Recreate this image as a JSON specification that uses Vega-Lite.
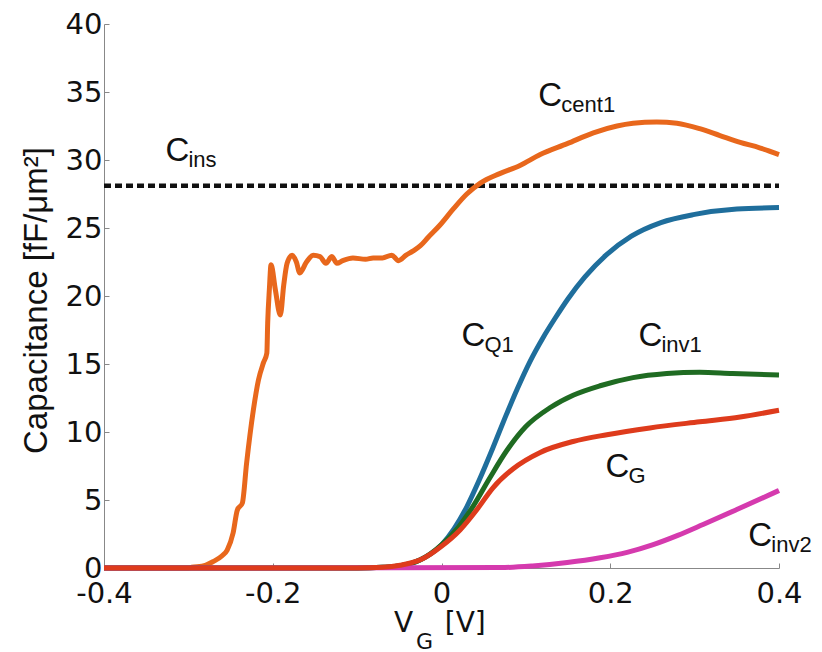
{
  "$schema": "https://vega.github.io/schema/vega-lite/v6.json",
  "autosize": "none",
  "width": 675,
  "height": 544,
  "padding": {"left": 104, "top": 24, "right": 43, "bottom": 84},
  "background": "white",
  "config": {
    "view": {"stroke": null},
    "axis": {"grid": false, "domainColor": "#888", "tickColor": "#888", "domainWidth": 1, "tickWidth": 1}
  },
  "data": {
    "values": [
      {"s": "cent1", "x": -0.4, "y": 0}, {"s": "cent1", "x": -0.3, "y": 0}, {"s": "cent1", "x": -0.296, "y": 0.05},
      {"s": "cent1", "x": -0.28, "y": 0.2}, {"s": "cent1", "x": -0.271, "y": 0.46}, {"s": "cent1", "x": -0.26, "y": 0.9},
      {"s": "cent1", "x": -0.254, "y": 1.32}, {"s": "cent1", "x": -0.247, "y": 2.57}, {"s": "cent1", "x": -0.242, "y": 4.26},
      {"s": "cent1", "x": -0.236, "y": 4.78}, {"s": "cent1", "x": -0.231, "y": 7.7}, {"s": "cent1", "x": -0.223, "y": 11.6},
      {"s": "cent1", "x": -0.217, "y": 13.8}, {"s": "cent1", "x": -0.211, "y": 15.1}, {"s": "cent1", "x": -0.207, "y": 15.8},
      {"s": "cent1", "x": -0.206, "y": 18.0}, {"s": "cent1", "x": -0.204, "y": 20.5}, {"s": "cent1", "x": -0.202, "y": 22.3},
      {"s": "cent1", "x": -0.197, "y": 20.5}, {"s": "cent1", "x": -0.191, "y": 18.6}, {"s": "cent1", "x": -0.187, "y": 20.8},
      {"s": "cent1", "x": -0.183, "y": 22.4}, {"s": "cent1", "x": -0.177, "y": 23.0}, {"s": "cent1", "x": -0.172, "y": 22.5},
      {"s": "cent1", "x": -0.168, "y": 21.7}, {"s": "cent1", "x": -0.16, "y": 22.5}, {"s": "cent1", "x": -0.152, "y": 23.0},
      {"s": "cent1", "x": -0.144, "y": 22.9}, {"s": "cent1", "x": -0.137, "y": 22.4}, {"s": "cent1", "x": -0.13, "y": 22.9},
      {"s": "cent1", "x": -0.124, "y": 22.4}, {"s": "cent1", "x": -0.117, "y": 22.6}, {"s": "cent1", "x": -0.105, "y": 22.8},
      {"s": "cent1", "x": -0.09, "y": 22.7}, {"s": "cent1", "x": -0.081, "y": 22.8}, {"s": "cent1", "x": -0.07, "y": 22.8},
      {"s": "cent1", "x": -0.059, "y": 23.0}, {"s": "cent1", "x": -0.051, "y": 22.6}, {"s": "cent1", "x": -0.042, "y": 23.0},
      {"s": "cent1", "x": -0.034, "y": 23.3}, {"s": "cent1", "x": -0.025, "y": 23.7}, {"s": "cent1", "x": -0.016, "y": 24.3},
      {"s": "cent1", "x": -0.002, "y": 25.2}, {"s": "cent1", "x": 0.014, "y": 26.4}, {"s": "cent1", "x": 0.03, "y": 27.5},
      {"s": "cent1", "x": 0.046, "y": 28.3}, {"s": "cent1", "x": 0.069, "y": 29.0}, {"s": "cent1", "x": 0.093, "y": 29.6},
      {"s": "cent1", "x": 0.117, "y": 30.4}, {"s": "cent1", "x": 0.149, "y": 31.2}, {"s": "cent1", "x": 0.18, "y": 32.0},
      {"s": "cent1", "x": 0.208, "y": 32.5}, {"s": "cent1", "x": 0.227, "y": 32.7}, {"s": "cent1", "x": 0.255, "y": 32.8},
      {"s": "cent1", "x": 0.279, "y": 32.7}, {"s": "cent1", "x": 0.306, "y": 32.3}, {"s": "cent1", "x": 0.33, "y": 31.8},
      {"s": "cent1", "x": 0.354, "y": 31.3}, {"s": "cent1", "x": 0.377, "y": 30.9}, {"s": "cent1", "x": 0.4, "y": 30.4},

      {"s": "Q1", "x": -0.4, "y": 0}, {"s": "Q1", "x": -0.1, "y": 0}, {"s": "Q1", "x": -0.07, "y": 0.05},
      {"s": "Q1", "x": -0.05, "y": 0.15}, {"s": "Q1", "x": -0.025, "y": 0.6}, {"s": "Q1", "x": 0, "y": 1.7},
      {"s": "Q1", "x": 0.015, "y": 2.9}, {"s": "Q1", "x": 0.03, "y": 4.5}, {"s": "Q1", "x": 0.045, "y": 6.5},
      {"s": "Q1", "x": 0.06, "y": 8.7}, {"s": "Q1", "x": 0.075, "y": 11.0}, {"s": "Q1", "x": 0.09, "y": 13.2},
      {"s": "Q1", "x": 0.105, "y": 15.2}, {"s": "Q1", "x": 0.12, "y": 16.9}, {"s": "Q1", "x": 0.135, "y": 18.4},
      {"s": "Q1", "x": 0.15, "y": 19.8}, {"s": "Q1", "x": 0.17, "y": 21.4}, {"s": "Q1", "x": 0.195, "y": 23.0},
      {"s": "Q1", "x": 0.225, "y": 24.4}, {"s": "Q1", "x": 0.26, "y": 25.4}, {"s": "Q1", "x": 0.3, "y": 26.0},
      {"s": "Q1", "x": 0.35, "y": 26.4}, {"s": "Q1", "x": 0.4, "y": 26.5},

      {"s": "inv1", "x": -0.4, "y": 0}, {"s": "inv1", "x": -0.1, "y": 0}, {"s": "inv1", "x": -0.07, "y": 0.05},
      {"s": "inv1", "x": -0.05, "y": 0.15}, {"s": "inv1", "x": -0.025, "y": 0.6}, {"s": "inv1", "x": 0, "y": 1.7},
      {"s": "inv1", "x": 0.02, "y": 3.0}, {"s": "inv1", "x": 0.037, "y": 4.5}, {"s": "inv1", "x": 0.057, "y": 6.6},
      {"s": "inv1", "x": 0.077, "y": 8.6}, {"s": "inv1", "x": 0.1, "y": 10.4}, {"s": "inv1", "x": 0.129, "y": 11.8},
      {"s": "inv1", "x": 0.156, "y": 12.7}, {"s": "inv1", "x": 0.188, "y": 13.4}, {"s": "inv1", "x": 0.227, "y": 14.0},
      {"s": "inv1", "x": 0.267, "y": 14.3}, {"s": "inv1", "x": 0.306, "y": 14.4}, {"s": "inv1", "x": 0.345, "y": 14.3},
      {"s": "inv1", "x": 0.4, "y": 14.2},

      {"s": "inv2", "x": -0.4, "y": 0}, {"s": "inv2", "x": 0.07, "y": 0.03}, {"s": "inv2", "x": 0.108, "y": 0.15},
      {"s": "inv2", "x": 0.149, "y": 0.4}, {"s": "inv2", "x": 0.188, "y": 0.75}, {"s": "inv2", "x": 0.22, "y": 1.15},
      {"s": "inv2", "x": 0.25, "y": 1.7}, {"s": "inv2", "x": 0.28, "y": 2.4}, {"s": "inv2", "x": 0.31, "y": 3.2},
      {"s": "inv2", "x": 0.35, "y": 4.3}, {"s": "inv2", "x": 0.4, "y": 5.7},

      {"s": "G", "x": -0.4, "y": 0}, {"s": "G", "x": -0.1, "y": 0}, {"s": "G", "x": -0.07, "y": 0.05},
      {"s": "G", "x": -0.049, "y": 0.2}, {"s": "G", "x": -0.025, "y": 0.6}, {"s": "G", "x": 0, "y": 1.6},
      {"s": "G", "x": 0.022, "y": 2.8}, {"s": "G", "x": 0.042, "y": 4.3}, {"s": "G", "x": 0.061, "y": 5.9},
      {"s": "G", "x": 0.085, "y": 7.3}, {"s": "G", "x": 0.117, "y": 8.5}, {"s": "G", "x": 0.156, "y": 9.3},
      {"s": "G", "x": 0.196, "y": 9.8}, {"s": "G", "x": 0.247, "y": 10.3}, {"s": "G", "x": 0.306, "y": 10.75},
      {"s": "G", "x": 0.354, "y": 11.1}, {"s": "G", "x": 0.4, "y": 11.6},

      {"s": "ins", "x": -0.4, "y": 28.1}, {"s": "ins", "x": 0.4, "y": 28.1}
    ]
  },
  "encoding": {
    "x": {
      "field": "x", "type": "quantitative",
      "scale": {"domain": [-0.4, 0.4], "nice": false, "zero": false},
      "axis": {
        "values": [-0.4, -0.2, 0, 0.2, 0.4],
        "labelExpr": "datum.value == 0 ? '0' : replace(format(datum.value, '.1f'), '\u2212', '-')",
        "labelFont": "DejaVu Sans", "labelFontSize": 29, "labelColor": "#111",
        "tickSize": -5, "labelPadding": 16, "title": null, "labelFlush": false
      }
    },
    "y": {
      "field": "y", "type": "quantitative",
      "scale": {"domain": [0, 40], "nice": false},
      "axis": {
        "values": [0, 5, 10, 15, 20, 25, 30, 35, 40],
        "labelFont": "DejaVu Sans", "labelFontSize": 29, "labelColor": "#111",
        "tickSize": -5, "labelPadding": 7, "labelFlush": false,
        "title": "Capacitance [fF/\u03bcm\u00b2]",
        "titleFont": "Liberation Sans", "titleFontSize": 33, "titleFontWeight": "normal", "titleColor": "#111",
        "titleAngle": -90, "titleBaseline": "alphabetic", "titleAlign": "center",
        "titleX": -58, "titleY": 276
      }
    }
  },
  "layer": [
    {"transform": [{"filter": "datum.s == 'ins'"}], "mark": {"type": "line", "color": "#111", "strokeWidth": 4.5, "strokeDash": [7, 4]}},
    {"transform": [{"filter": "datum.s == 'cent1'"}], "mark": {"type": "line", "color": "#E8671C", "strokeWidth": 5, "interpolate": "monotone"}},
    {"transform": [{"filter": "datum.s == 'Q1'"}], "mark": {"type": "line", "color": "#1F6E9C", "strokeWidth": 5, "interpolate": "monotone"}},
    {"transform": [{"filter": "datum.s == 'inv1'"}], "mark": {"type": "line", "color": "#1F6B22", "strokeWidth": 5, "interpolate": "monotone"}},
    {"transform": [{"filter": "datum.s == 'inv2'"}], "mark": {"type": "line", "color": "#D53AAE", "strokeWidth": 5, "interpolate": "monotone"}},
    {"transform": [{"filter": "datum.s == 'G'"}], "mark": {"type": "line", "color": "#DE3B1C", "strokeWidth": 5, "interpolate": "monotone"}},
    {
      "data": {"values": [
        {"x": -0.3272, "y": 29.93, "main": "C", "sub": "ins"},
        {"x": 0.1148, "y": 33.97, "main": "C", "sub": "cent1"},
        {"x": 0.0236, "y": 16.32, "main": "C", "sub": "Q1"},
        {"x": 0.2334, "y": 16.32, "main": "C", "sub": "inv1"},
        {"x": 0.1943, "y": 6.69, "main": "C", "sub": "G"},
        {"x": 0.3637, "y": 1.62, "main": "C", "sub": "inv2"}
      ]},
      "layer": [
        {"mark": {"type": "text", "font": "Liberation Sans", "fontSize": 33, "align": "left", "baseline": "alphabetic", "color": "#111"},
         "encoding": {"text": {"field": "main"}}},
        {"mark": {"type": "text", "font": "Liberation Sans", "fontSize": 22, "align": "left", "baseline": "alphabetic", "color": "#111", "dx": 23, "dy": 6},
         "encoding": {"text": {"field": "sub"}}}
      ]
    },
    {
      "data": {"values": [
        {"x": -0.0563, "y": -4.71, "t": "V"},
        {"x": 0.0038, "y": -4.71, "t": "[V]"}
      ]},
      "mark": {"type": "text", "font": "DejaVu Sans", "fontSize": 28, "align": "left", "baseline": "alphabetic", "color": "#111"},
      "encoding": {"text": {"field": "t"}}
    },
    {
      "data": {"values": [{"x": -0.0563, "y": -4.71, "t": "G"}]},
      "mark": {"type": "text", "font": "DejaVu Sans", "fontSize": 22, "align": "left", "baseline": "alphabetic", "color": "#111", "dx": 22, "dy": 17},
      "encoding": {"text": {"field": "t"}}
    }
  ]
}
